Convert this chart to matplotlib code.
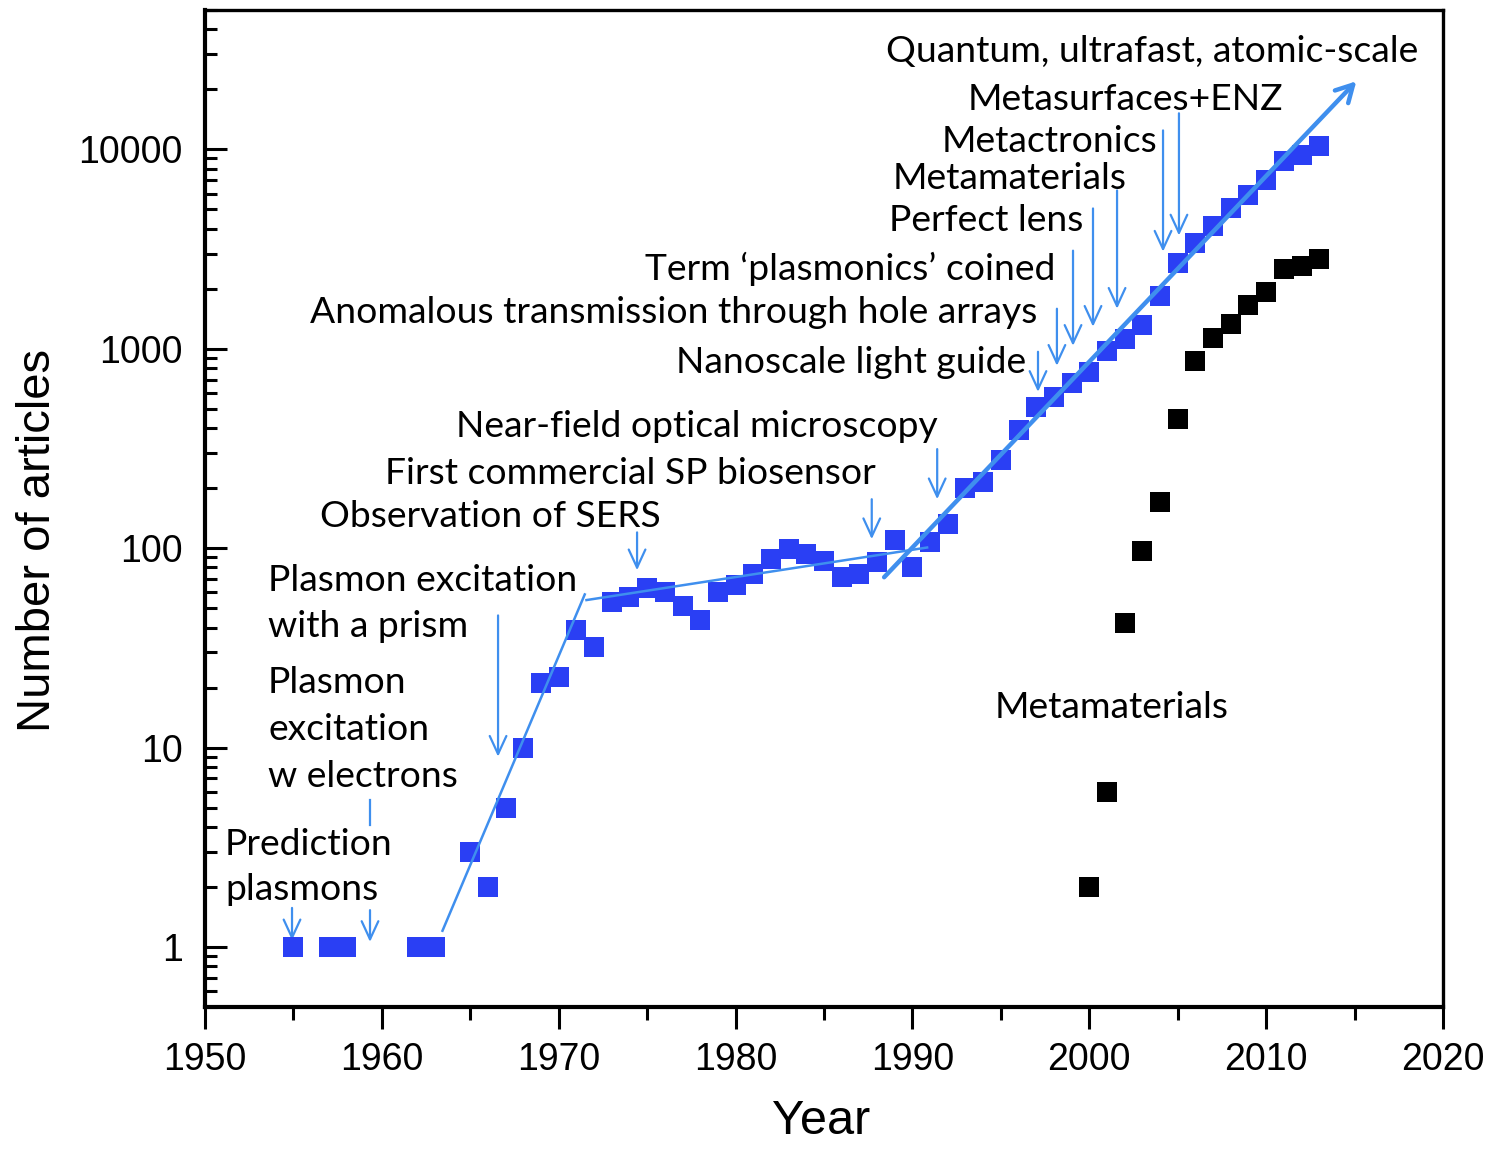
import matplotlib
matplotlib.use("Agg")
import matplotlib.pyplot as plt
import numpy as np
from matplotlib.ticker import LogLocator, NullFormatter, FixedLocator, MultipleLocator

# ---------------- data ----------------
plasmon_years = [1955, 1957, 1958, 1962, 1963, 1965, 1966, 1967, 1968, 1969, 1970,
                 1971, 1972, 1973, 1974, 1975, 1976, 1977, 1978, 1979, 1980,
                 1981, 1982, 1983, 1984, 1985, 1986, 1987, 1988, 1989, 1990,
                 1991, 1992, 1993, 1994, 1995, 1996, 1997, 1998, 1999, 2000,
                 2001, 2002, 2003, 2004, 2005, 2006, 2007, 2008, 2009, 2010,
                 2011, 2012, 2013]
plasmon_counts = [1, 1, 1, 1, 1, 3, 2, 5, 10, 21, 22.5,
                  39, 32, 53.5, 57, 63.5, 60, 51, 43.5, 60.5, 65,
                  74, 88, 98.5, 93.5, 86, 71.5, 74, 85, 110, 80,
                  108, 132, 200, 215, 277, 391, 508, 574, 670, 762,
                  977, 1122, 1320, 1845, 2700, 3400, 4150, 5100, 5900, 7050,
                  8700, 9330, 10400]

meta_years = [2000, 2001, 2002, 2003, 2004, 2005, 2006, 2007, 2008, 2009, 2010,
              2011, 2012, 2013]
meta_counts = [2, 6, 42, 96.5, 170, 442, 865, 1135, 1335, 1660, 1920,
               2525, 2600, 2833]

# trend lines (start/end year, start/end value)
trend1_years = [1963.4, 1971.5]
trend1_vals = [1.19, 59.4]
trend2_years = [1971.5, 1990.9]
trend2_vals = [54.8, 101]
trend3_years = [1988.4, 2015.1]
trend3_vals = [71.5, 21960]

# event pointers: arrow year, arrow tail value, arrow tip value
event_arrows = [
    (1954.92, 1.57, 1.08),
    (1959.33, 1.53, 1.06),
    (1966.57, 46, 9.0),
    (1974.43, 120, 77.5),
    (1987.7, 176, 111),
    (1991.4, 314, 176),
    (1997.10, 966, 608),
    (1998.17, 1588, 822),
    (1999.08, 3105, 1035),
    (2000.21, 5055, 1290),
    (2001.57, 6225, 1588),
    (2004.17, 12450, 3070),
    (2005.07, 15170, 3700),
]

x_ticks = [1950, 1960, 1970, 1980, 1990, 2000, 2010, 2020]
y_ticks = [1, 10, 100, 1000, 10000]
y_ticklabels = ["1", "10", "100", "1000", "10000"]

# ---------------- figure ----------------
W, H = 1495, 1152
fig = plt.figure(figsize=(W / 100, H / 100), dpi=100)
ax_l, ax_r, ax_b, ax_t = 205, 1443, 1007, 10
ax = fig.add_axes([ax_l / W, 1 - ax_b / H, (ax_r - ax_l) / W, (ax_b - ax_t) / H])

blue = "#2a3ff4"
lightblue = "#3f8fee"

ax.set_yscale("log")
ax.set_xlim(1950, 2020)
ax.set_ylim(0.5, 50000)

ax.plot(plasmon_years, plasmon_counts, "s", color=blue, markersize=14, markeredgewidth=0, zorder=3)
ax.plot(meta_years, meta_counts, "s", color="black", markersize=13.8, markeredgewidth=0, zorder=3)

ax.plot(trend1_years, trend1_vals, color=lightblue, lw=1.8, zorder=4, solid_capstyle="butt")
ax.plot(trend2_years, trend2_vals, color=lightblue, lw=1.8, zorder=4, solid_capstyle="butt")
ax.annotate("", xy=(trend3_years[1], trend3_vals[1]), xytext=(trend3_years[0], trend3_vals[0]),
            arrowprops=dict(arrowstyle="->,head_length=0.55,head_width=0.3", color=lightblue,
                            lw=3.2, mutation_scale=22, shrinkA=0, shrinkB=0), zorder=4)

for yr, tail, tip in event_arrows:
    ax.annotate("", xy=(yr, tip), xytext=(yr, tail),
                arrowprops=dict(arrowstyle="->,head_length=0.65,head_width=0.3", color=lightblue,
                                lw=1.6, mutation_scale=20, shrinkA=0, shrinkB=0), zorder=2.8)
# short visible piece of the electron-excitation pointer above "Prediction"
ax.plot([1959.33, 1959.33], [5.48, 4.1], color=lightblue, lw=1.6, zorder=2.8)

# ---------------- texts ----------------
tfont = dict(family=["Lato", "DejaVu Sans"], fontsize=26.8, color="black")
labels = [
    ("Quantum, ultrafast, atomic-scale", 1418, 62, "right"),
    ("Metasurfaces+ENZ", 1283, 110, "right"),
    ("Metactronics", 1157, 152, "right"),
    ("Metamaterials", 1127, 189, "right"),
    ("Perfect lens", 1083, 231, "right"),
    ("Term \u2018plasmonics\u2019 coined", 1055, 280, "right"),
    ("Anomalous transmission through hole arrays", 1037, 323, "right"),
    ("Nanoscale light guide", 1026, 373, "right"),
    ("Near-field optical microscopy", 938, 437, "right"),
    ("First commercial SP biosensor", 876, 484, "right"),
    ("Observation of SERS", 661, 527, "right"),
    ("Plasmon excitation", 268, 591, "left"),
    ("with a prism", 268, 637, "left"),
    ("Plasmon", 268, 693, "left"),
    ("excitation", 268, 740, "left"),
    ("w electrons", 268, 787, "left"),
    ("Prediction", 225, 855, "left"),
    ("plasmons", 225, 900, "left"),
    ("Metamaterials", 995, 718, "left"),
]
for txt, px, py, ha in labels:
    fx = (px - ax_l) / (ax_r - ax_l)
    fy = (ax_b - py) / (ax_b - ax_t)
    ax.text(fx, fy, txt, transform=ax.transAxes, ha=ha, va="baseline", zorder=5, **tfont)

# ---------------- axes styling ----------------
afont = ["Liberation Sans", "DejaVu Sans"]
ax.xaxis.set_major_locator(FixedLocator(x_ticks))
ax.xaxis.set_minor_locator(MultipleLocator(5))
ax.set_xticklabels([str(t) for t in x_ticks], family=afont, fontsize=27)
ax.yaxis.set_major_locator(FixedLocator(y_ticks))
ax.yaxis.set_minor_locator(LogLocator(base=10, subs=np.arange(2, 10), numticks=20))
ax.yaxis.set_minor_formatter(NullFormatter())
ax.set_yticklabels(y_ticklabels, family=afont, fontsize=27)

ax.tick_params(axis="x", which="major", direction="out", length=16, width=2.2, pad=9)
ax.tick_params(axis="x", which="minor", direction="out", length=9, width=2.2)
ax.tick_params(axis="y", which="major", direction="in", length=16, width=2.2, pad=16)
ax.tick_params(axis="y", which="minor", direction="in", length=8.5, width=2.2)
ax.tick_params(top=False, right=False, which="both")

for side in ["left", "bottom"]:
    ax.spines[side].set_linewidth(3)
for side in ["top", "right"]:
    ax.spines[side].set_linewidth(2.4)

ax.set_xlabel("Year", family=afont, fontsize=35)
ax.set_ylabel("Number of articles", family=afont, fontsize=34)
ax.xaxis.set_label_coords(0.498, -0.092)
ax.yaxis.set_label_coords(-0.117, 0.468)

fig.savefig("out.png", dpi=100)
